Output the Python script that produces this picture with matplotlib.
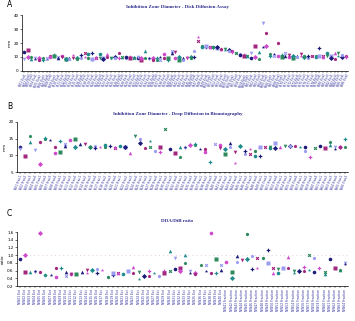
import numpy as np
import matplotlib
matplotlib.use('Agg')
import matplotlib.pyplot as plt

# ---- data ----
# A: inhibition zone diameter, disk diffusion assay (mm), two replicates
a_rep1 = [13.8, 15, 8.3, 9, 9.5, 9, 8.6, 11, 11.2, 9.8, 10.5, 8.3, 9, 9.5, 9, 9.5,
          9.8, 9, 13.1, 9.5, 12, 9.5, 12, 9, 10, 13, 9.5, 9, 10, 9, 9.5, 8, 14.5,
          8.5, 9, 8, 10, 9, 8, 14.5, 9, 8, 9.5, 9, 10, 14, 24.5, 18, 17.5, 17.5, 17,
          16.5, 16, 15.5, 15, 14, 13, 12, 11.5, 11, 9.5, 18, 13.8, 34.5, 17.8, 12,
          12, 20, 11.5, 12.5, 10, 9.5, 11, 12, 10, 9.5, 10.5, 11, 16.7, 11, 12.5,
          11, 12.5, 13, 10, 11]
a_rep2 = [8.3, 10.2, 9.8, 8.6, 7.9, 7.9, 9, 9.8, 10.5, 9, 9.8, 8.6, 8.6, 11.4, 8.3,
          11.4, 13.1, 12.4, 8.6, 10, 9, 8.5, 10, 9.5, 9, 9.5, 10, 10, 9.5, 10, 10, 9,
          9.5, 9, 7.5, 9.5, 7.5, 12, 9.5, 12.5, 13.5, 10, 8, 10, 9.5, 10, 21.5, 17.5,
          18, 17, 16.5, 17, 15.5, 15, 14.5, 13.5, 12.5, 11.5, 11, 10.5, 13, 10, 8.5,
          17.4, 27, 11, 10.5, 11, 10, 11, 11.5, 11, 10, 10.5, 11, 10.5, 11, 10, 10.5,
          10, 10.5, 9, 8.5, 11, 11.5, 10]

# B: inhibition zone diameter, drop diffusion in bioautography (mm)
nan = np.nan
b_rep1 = [12.5, 9.7, 14.1, 11.5, 7.4, 15, 14.5, 12.5, 14.2, 13.3, 14.5, 14.8, 13.4,
          13.4, 12.6, 12.8, 12.6, 12.6, 12.8, 12.1, 12.9, 12.6, 10.8, 15.8, 13.8,
          12.1, 14.4, 11.3, 11.1, 17.9, 11.8, 10.8, 12.6, 12.3, 13.2, 13.2, 11.8, 12,
          8.1, 13.4, 13.2, 10.3, 13.8, 11.1, 12.8, 10.5, 12, 11.3, 9.8, 12.5, 12.1,
          13.8, 12.5, 12.9, 12.8, 12.8, 12.5, 11.3, 9.6, 12.3, 12.8, 12.3, 13.2,
          12.5, 12.5, 12.5]
b_rep2 = [12, nan, 15.7, nan, 14, 15.1, nan, 10.6, 11, 12.9, nan, 12.5, nan, nan,
          12.6, 12.3, nan, 13.2, nan, 12.6, nan, 12.6, nan, nan, 14.8, nan, 12.6,
          nan, 12.6, nan, nan, nan, 9.6, 12.5, nan, 13.4, nan, 11.1, nan, nan, 12.3,
          11.8, 12.5, 7.6, nan, 11.3, 10.5, 9.8, 12.5, nan, 12.6, 12.1, nan, nan,
          12.8, nan, nan, 12.5, nan, nan, nan, nan, 14.1, 12, 12.6, 15]

# C: DDA/DiB ratio
c_rep1 = [0.90, 0.57, 0.57, 0.57, 1.57, 0.49, 0.49, 0.68, 0.66, 0.45, 0.51, 0.51,
          0.57, 0.61, 0.61, 0.64, 0.61, 0.43, 0.49, 0.55, 0.51, 0.58, 0.70, 0.57,
          0.45, 0.45, 0.55, 0.47, 0.58, 0.58, 0.64, 0.67, 1.0, 0.6, 0.53, 0.74,
          0.58, 0.53, 0.53, 0.74, 0.83, 0.57, 0.98, 0.88, 0.91, 0.97, 0.67, 0.94,
          1.13, 0.68, 0.55, 0.68, 0.96, 0.6, 0.58, 0.58, 0.62, 0.94, 0.68, 0.57,
          0.91, 0.67, 0.61, 0.79]
c_rep2 = [nan, 1.01, nan, 0.60, 0.57, 0.49, nan, 0.44, nan, 0.57, 0.51, nan, nan,
          0.53, nan, 0.53, nan, nan, 0.53, 0.55, nan, nan, 0.55, 0.38, nan, 0.60,
          nan, nan, 0.55, 1.11, 0.92, 0.58, 0.79, 0.55, 0.51, nan, 0.74, 1.57, 0.9,
          0.61, nan, 0.41, 0.83, nan, 1.54, 0.64, 0.94, nan, 0.79, 0.55, 0.64, nan,
          0.66, 0.55, nan, 0.7, 1.0, 0.57, nan, 0.51, nan, nan, 0.61, 0.77]

a_labels = ['N%02d Ext%d' % (k + 1, k % 3 + 1) for k in range(len(a_rep1))]
b_labels = ['N%02d Frac%d' % (k + 1, k % 4 + 1) for k in range(len(b_rep1))]
c_labels = ['NW%02d %s' % (k + 1, 'Ext' if k < 40 else 'Fraction') for k in range(len(c_rep1))]

colors = ['#1c1c78', '#a3267f', '#1f8c8c', '#9c9cf0', '#cf4bcc', '#2e8a5c']
markers = ['o', 's', '^', 'v', 'D', 'p', '*', 'h', 'P', 'X']
title_color = '#2a2a8c'
tick_color = '#2a2a9a'

fig = plt.figure(figsize=(3.55, 3.21), dpi=100)


def panel(rect, r1, r2, labels, title, ylab, ylim, yticks, rot, letter, ly, ty):
    ax = fig.add_axes(rect)
    x = np.arange(len(r1))
    for i in x:
        for rep, shift in ((r1, 0), (r2, 3)):
            v = rep[i]
            if np.isnan(v):
                continue
            ax.plot(i, v, marker=markers[(i + shift) % len(markers)], ms=2.6,
                    color=colors[(i + shift) % len(colors)], mec='none', ls='none',
                    clip_on=False)
    ax.set_xlim(-0.5, len(r1) - 0.5)
    ax.set_ylim(*ylim)
    ax.set_yticks(yticks)
    ax.set_xticks(x)
    ax.set_xticklabels(labels, rotation=rot, ha='right' if rot < 90 else 'center',
                       rotation_mode='anchor' if rot < 90 else 'default',
                       fontsize=2.2, color=tick_color)
    ax.tick_params(axis='y', labelsize=3, length=1.5, width=0.4, pad=1)
    ax.tick_params(axis='x', length=1.2, width=0.3, pad=0.8)
    for s in ('top', 'right'):
        ax.spines[s].set_visible(False)
    for s in ('left', 'bottom'):
        ax.spines[s].set_linewidth(0.5)
    ax.set_ylabel(ylab, fontsize=3, labelpad=1.5)
    fig.text(0.5, ty, title, ha='center', va='center', fontsize=3.6,
             family='Liberation Serif', weight='bold', color=title_color)
    fig.text(0.02, ly, letter, fontsize=5.5, ha='left', va='center')
    return ax


panel([0.062, 0.779, 0.918, 0.174], a_rep1, a_rep2, a_labels,
      'Inhibition Zone Diameter - Disk Diffusion Assay', 'mm', (0, 40),
      [0, 10, 20, 30, 40], 65, 'A', 0.985, 0.978)

panel([0.048, 0.464, 0.932, 0.156], b_rep1, b_rep2, b_labels,
      'Inhibition Zone Diameter - Drop Diffusion in Bioautography', 'mm', (5, 20),
      [5, 10, 15, 20], 70, 'B', 0.667, 0.645)

axc = panel([0.048, 0.109, 0.932, 0.168], c_rep1, c_rep2, c_labels,
            'DDA/DiB ratio', 'ratio', (0.2, 1.6),
            [0.2, 0.4, 0.6, 0.8, 1.0, 1.2, 1.4, 1.6], 90, 'C', 0.336, 0.311)
axc.axhline(1.0, color='#e6b8e6', lw=0.6, ls=(0, (1, 4)), zorder=0)
axc.set_yticklabels(['0.2', '0.4', '0.6', '0.8', '1.0', '1.2', '1.4', '1.6'])

fig.savefig('out.png', dpi=100)
